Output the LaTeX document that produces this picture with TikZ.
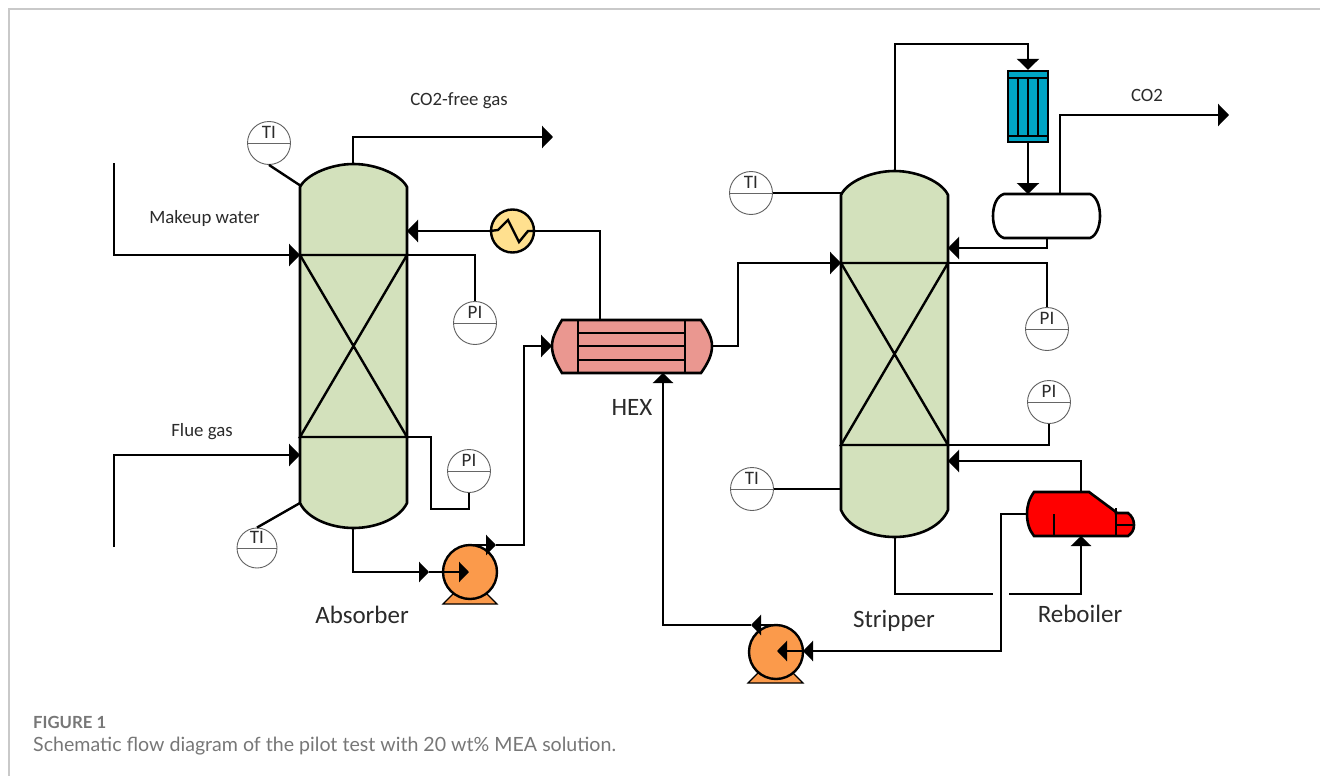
\documentclass[tikz,border=0pt]{standalone}
\usepackage{fontspec}
\setmainfont{Carlito}
\newfontfamily\capfont{Lato}
\usetikzlibrary{arrows.meta}
\definecolor{colgreen}{HTML}{D3E1BC}
\definecolor{hexred}{HTML}{EA9790}
\definecolor{coolyellow}{HTML}{FFE08F}
\definecolor{pumporange}{HTML}{FB9A4B}
\definecolor{condblue}{HTML}{00A5C5}
\definecolor{inktext}{HTML}{2B2B2B}
\definecolor{framegray}{HTML}{C9C9C9}
\definecolor{capgray}{HTML}{777777}
\tikzset{
  pipe/.style={line width=2.4pt,draw=black,line join=miter},
  flow/.style={pipe,-{Triangle[length=11pt,width=22pt]}},
  flowsmall/.style={pipe,-{Triangle[length=10pt,width=20pt]}},
  vessel/.style={line width=2.6pt,draw=black},
  instr/.style={circle,draw=black!62,line width=0.9pt,fill=white,minimum size=43pt,inner sep=0pt,
    font=\fontsize{19}{19}\selectfont,text=inktext,
    path picture={\draw[black!60,line width=1pt] (path picture bounding box.west) -- (path picture bounding box.east);}},
  tag/.style={inner sep=0pt,anchor=base,text=inktext,font=\fontsize{18.8}{18.8}\selectfont},
  bigtag/.style={inner sep=0pt,anchor=base,text=inktext,font=\fontsize{25}{25}\selectfont},
  pumpbody/.style={circle,draw=black,line width=2.4pt,fill=pumporange,minimum size=54pt,inner sep=0pt},
  pumpbase/.style={draw=black,line width=1.2pt,fill=pumporange,line join=miter},
  coolerbody/.style={circle,draw=black,line width=2.4pt,fill=coolyellow,minimum size=43pt,inner sep=0pt},
}
\newcommand{\itag}[1]{\smash{\raisebox{5pt}{#1}}}
\begin{document}
\begin{tikzpicture}[x=1pt,y=-1pt]
\useasboundingbox (0,0) rectangle (1320,776);
\fill[white] (0,0) rectangle (1320,776);
% frame
\draw[framegray,line width=1.2pt] (9,776) -- (9,9) -- (1320,9);

% ----- ports
\coordinate (absW1) at (300,255);  \coordinate (absE1) at (407,255);
\coordinate (absW2) at (300,437);  \coordinate (absE2) at (407,437);
\coordinate (absFlue) at (300,455);\coordinate (absRet) at (407,231);
\coordinate (absTop) at (353,164);\coordinate (absBot) at (353,528);
\coordinate (stW1) at (841,263);   \coordinate (stE1) at (948,263);
\coordinate (stW2) at (841,445);   \coordinate (stE2) at (948,445);
\coordinate (stTop) at (895,171);  \coordinate (stBot) at (895,537);
\coordinate (stReflux) at (948,248);\coordinate (stBoil) at (948,461);
\coordinate (stTI1) at (841,193);  \coordinate (stTI2) at (841,489);
\coordinate (absTI1) at (301,186); \coordinate (absTI2) at (300,503);
\coordinate (hexW) at (552,346);   \coordinate (hexE) at (712,346);
\coordinate (hexT) at (600,320);   \coordinate (hexB) at (663,373);
\coordinate (rbT) at (1081,492);   \coordinate (rbB) at (1081,536);
\coordinate (rbW) at (1027,514);

% ----- columns
\path[vessel,fill=colgreen] (300,187) .. controls (306,175) and (330,164) .. (353.5,164)
  .. controls (377,164) and (401,175) .. (407,187) -- (407,503)
  .. controls (400,518) and (377,528) .. (353.5,528)
  .. controls (330,528) and (307,518) .. (300,503) -- cycle;
\path[vessel,fill=colgreen] (841,195) .. controls (847,182) and (871,171) .. (894.5,171)
  .. controls (918,171) and (942,182) .. (948,195) -- (948,510)
  .. controls (941,527) and (918,537) .. (894.5,537)
  .. controls (871,537) and (848,527) .. (841,510) -- cycle;
\draw[pipe] (absW1) -- (absE1) -- (absW2) -- (absE2) -- (absW1);
\draw[pipe] (stW1) -- (stE1) -- (stW2) -- (stE2) -- (stW1);

% ----- heat exchanger
\path[vessel,fill=hexred] (562,320) -- (701,320) .. controls (708,330) and (712,338) .. (712,346)
  .. controls (712,355) and (708,363) .. (701,373) -- (562,373)
  .. controls (556,363) and (552,355) .. (552,346) .. controls (552,338) and (556,330) .. (562,320) -- cycle;
\draw[pipe] (578,320) -- (578,373);
\draw[pipe] (685,320) -- (685,373);
\draw[pipe] (578,333) -- (685,333);
\draw[pipe] (578,346) -- (685,346);
\draw[pipe] (578,360) -- (685,360);

% ----- condenser
\node[draw=black,line width=2.4pt,fill=condblue,minimum width=40pt,minimum height=71pt,inner sep=0pt] (cond) at (1028,106.5) {};
\draw[pipe] (1008,78) -- (1048,78);
\draw[pipe] (1008,136) -- (1048,136);
\draw[pipe] (1018,78) -- (1018,136);
\draw[pipe] (1028,78) -- (1028,136);
\draw[pipe] (1038,78) -- (1038,136);

% ----- drum
\path[vessel,fill=white] (1004,194) -- (1090,194) .. controls (1096,196) and (1100,205) .. (1100,216)
  .. controls (1100,227) and (1096,236) .. (1090,238) -- (1004,238)
  .. controls (997,236) and (993,227) .. (993,216) .. controls (993,205) and (997,196) .. (1004,194) -- cycle;
\coordinate (drumT) at (1028,194);
\coordinate (drumGas) at (1060,194);
\coordinate (drumB) at (1047,238);

% ----- reboiler
\path[vessel,fill=red] (1034,492) -- (1089,492) -- (1116,512) -- (1116,513) -- (1128,513)
  .. controls (1132,516) and (1134,520) .. (1134,525) .. controls (1134,530) and (1132,533) .. (1128,536)
  -- (1034,536) .. controls (1029,530) and (1027,522) .. (1027,514) .. controls (1027,506) and (1029,499) .. (1034,492) -- cycle;
\draw[pipe] (1054,514) -- (1054,536);
\draw[pipe] (1116,508) -- (1116,536);
\draw[pipe] (1116,525) -- (1134,525);

% ----- pumps
\path[pumpbase] (457,590) -- (443,604) -- (497,604) -- (483,590) -- cycle;
\node[pumpbody] (pumpA) at (470,572) {};
\path[pumpbase] (761,670) -- (748,683) -- (803,683) -- (790,670) -- cycle;
\node[pumpbody] (pumpB) at (776,652) {};
\coordinate (pumpAmid) at (429,572);
\coordinate (pumpAtip) at (469,572);
\coordinate (pumpAout) at (496,545);
\coordinate (pumpAtop) at (470,545);
\coordinate (pumpBmid) at (803,651);
\coordinate (pumpBtip) at (777,651);
\coordinate (pumpBout) at (751,625);
\coordinate (pumpBtop) at (776,625);

% ----- cooler
\node[coolerbody] (cool) at (512.5,231) {};
\draw[pipe] (cool.west) -- (498,230) -- (508,220) -- (519,242) -- (528,231) -- (cool.east);

% ----- instruments
\node[instr] (tiA) at (269,143) {\itag{TI}};
\node[instr,minimum size=40pt] (tiB) at (257,548) {\itag{TI}};
\node[instr] (piA) at (475,323) {\itag{PI}};
\node[instr] (piB) at (469,471) {\itag{PI}};
\node[instr] (tiC) at (751,193) {\itag{TI}};
\node[instr] (tiD) at (752,489) {\itag{TI}};
\node[instr] (piC) at (1047,329) {\itag{PI}};
\node[instr] (piD) at (1049,402) {\itag{PI}};

% ----- free ends
\coordinate (mkStart) at (114,163);
\coordinate (flueStart) at (114,547);
\coordinate (gasEnd) at (553,137);
\coordinate (co2End) at (1229,115);
\coordinate (gapL) at (993,594);
\coordinate (gapR) at (1009,594);

% ----- connectors
\draw[flow] (mkStart) |- (absW1);
\draw[flow] (flueStart) |- (absFlue);
\draw[flow] (absTop) |- (gasEnd);
\draw[pipe] (hexT) |- (cool.east);
\draw[flow] (cool.west) -- (absRet);
\draw[pipe] (absE1) -| (piA.north);
\draw[pipe] (absE2) -- (431,437) -- (431,509) -| (piB.south);
\draw[pipe] (tiA.south) -- (absTI1);
\draw[pipe] (tiB.north) -- (absTI2);
\draw[flowsmall] (absBot) |- (pumpAmid);
\draw[flowsmall] (pumpAmid) -- (pumpAtip);
\draw[flowsmall] (pumpAtop) -- (pumpAout);
\draw[flow] (pumpAout) -- (524,545) |- (hexW);
\draw[flow] (hexE) -- (738,346) |- (stW1);
\draw[flowsmall] (pumpBtop) -- (pumpBout);
\draw[flowsmall] (pumpBout) -| (hexB);
\draw[flow] (stTop) |- (1028,44) -- (cond.north);
\draw[flow] (cond.south) -- (drumT);
\draw[flow] (drumGas) |- (co2End);
\draw[flow] (drumB) |- (stReflux);
\draw[pipe] (tiC.east) -- (stTI1);
\draw[pipe] (tiD.east) -- (stTI2);
\draw[pipe] (stE1) -| (piC.north);
\draw[pipe] (stE2) -| (piD.south);
\draw[flow] (rbT) |- (stBoil);
\draw[pipe] (stBot) |- (gapL);
\draw[flowsmall] (gapR) -| (rbB);
\draw[flowsmall] (rbW) -- (1001,514) |- (pumpBmid);
\draw[flowsmall] (pumpBmid) -- (pumpBtip);

% ----- labels
\node[tag] (lblFree) at (459,106) {CO2-free gas};
\node[tag] (lblMk) at (204.5,223) {Makeup water};
\node[tag] (lblFlue) at (202,436) {Flue gas};
\node[tag] (lblCO2) at (1147,102) {CO2};
\node[bigtag] (lblAbs) at (362,623) {Absorber};
\node[bigtag] (lblHex) at (632,415) {HEX};
\node[bigtag] (lblStr) at (894,627) {Stripper};
\node[bigtag] (lblReb) at (1080,622) {Reboiler};
\node[anchor=west,inner sep=0pt,text=capgray,font=\capfont\bfseries\fontsize{16.7}{16.7}\selectfont] (capA) at (33,722) {FIGURE 1};
\node[anchor=west,inner sep=0pt,text=capgray,font=\capfont\fontsize{19.6}{19.6}\selectfont] (capB) at (33,746.5) {Schematic flow diagram of the pilot test with 20 wt\% MEA solution.};
\end{tikzpicture}
\end{document}
